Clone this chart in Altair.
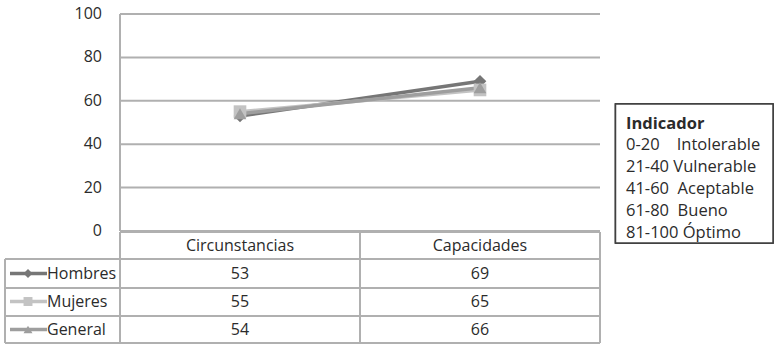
import altair as alt
import pandas as pd

# Data
categories = ["Circunstancias", "Capacidades"]
series = ["Hombres", "Mujeres", "General"]
hombres = [53, 69]
mujeres = [55, 65]
general = [54, 66]
y_ticks = [0, 20, 40, 60, 80, 100]
levels = ["0-20", "21-40", "41-60", "61-80", "81-100"]
level_names = ["Intolerable", "Vulnerable", "Aceptable", "Bueno", "Óptimo"]
level_gaps = [4, 1, 2, 2, 1]

colors = ["#767676", "#c3c3c3", "#9e9e9e"]
shapes = ["diamond", "square", "triangle-up"]
FONT = "Open Sans"
FS = 16
FS_BOX = 16.5
TXT = "#2b2b2b"
GRID = "#b0b0b0"

rows = []
for name, vals in zip(series, [hombres, mujeres, general]):
    for cat, v in zip(categories, vals):
        rows.append({"series": name, "category": cat, "value": v,
                     "order": categories.index(cat)})
df = pd.DataFrame(rows)

yscale = alt.Scale(domain=[0, 100], range=[231, 14])
xscale = alt.Scale(type="point", domain=categories, range=[240, 480], padding=0)
rowscale = alt.Scale(type="point", domain=series, range=[273.5, 329.5], padding=0)
color = alt.Color("series:N", scale=alt.Scale(domain=series, range=colors), legend=None)
shape = alt.Shape("series:N", scale=alt.Scale(domain=series, range=shapes), legend=None)

# Horizontal gridlines and y tick labels
ticks_df = pd.DataFrame({"tick": y_ticks})
grid = alt.Chart(ticks_df).mark_rule(color=GRID, strokeWidth=2).encode(
    y=alt.Y("tick:Q", scale=yscale, axis=None),
    x=alt.value(120), x2=alt.value(600),
)
tick_labels = alt.Chart(ticks_df).mark_text(
    align="right", baseline="middle", font=FONT, fontSize=FS, color=TXT
).encode(
    y=alt.Y("tick:Q", scale=yscale, axis=None),
    x=alt.value(102),
    text="tick:Q",
)
y_line = alt.Chart(ticks_df).mark_rule(color=GRID, strokeWidth=2).encode(
    x=alt.value(120), y=alt.value(14), y2=alt.value(231)
)

# Data table borders (pixel layout)
h_lines = pd.DataFrame({
    "y": [232, 259, 288, 316, 343],
    "x1": [120, 5, 5, 5, 5],
    "x2": [600, 600, 600, 600, 600],
})
v_lines = pd.DataFrame({
    "x": [5, 120, 360, 600],
    "y1": [259, 232, 232, 232],
    "y2": [343, 343, 343, 343],
})
h_rules = alt.Chart(h_lines).mark_rule(color=GRID, strokeWidth=2).encode(
    y=alt.Y("y:Q", scale=None), x=alt.X("x1:Q", scale=None), x2="x2:Q"
)
v_rules = alt.Chart(v_lines).mark_rule(color=GRID, strokeWidth=2).encode(
    x=alt.X("x:Q", scale=None), y=alt.Y("y1:Q", scale=None), y2="y2:Q"
)

# Series lines and markers
base = alt.Chart(df)
lines = base.mark_line(strokeWidth=3.5).encode(
    x=alt.X("category:N", scale=xscale, axis=None),
    y=alt.Y("value:Q", scale=yscale, axis=None),
    color=color,
    detail="series:N",
    order="order:Q",
)
points = base.mark_point(filled=True, opacity=1, size=160).encode(
    x=alt.X("category:N", scale=xscale, axis=None),
    y=alt.Y("value:Q", scale=yscale, axis=None),
    color=color,
    shape=shape,
)

# Table header and values
header = alt.Chart(pd.DataFrame({"category": categories})).mark_text(
    font=FONT, fontSize=FS, color=TXT, baseline="middle"
).encode(
    x=alt.X("category:N", scale=xscale, axis=None),
    y=alt.value(245.5),
    text="category:N",
)
values = base.mark_text(font=FONT, fontSize=FS, color=TXT, baseline="middle").encode(
    x=alt.X("category:N", scale=xscale, axis=None),
    y=alt.Y("series:N", scale=rowscale, axis=None),
    text="value:Q",
)

# Series keys inside the table
key_df = pd.DataFrame({"series": series})
key_lines = alt.Chart(key_df).mark_rule(strokeWidth=3.5).encode(
    y=alt.Y("series:N", scale=rowscale, axis=None),
    x=alt.value(10), x2=alt.value(47),
    color=color,
)
key_points = alt.Chart(key_df).mark_point(filled=True, opacity=1, size=80).encode(
    y=alt.Y("series:N", scale=rowscale, axis=None),
    x=alt.value(28),
    color=color,
    shape=shape,
)
key_text = alt.Chart(key_df).mark_text(
    align="left", baseline="middle", font=FONT, fontSize=FS, color=TXT
).encode(
    y=alt.Y("series:N", scale=rowscale, axis=None),
    x=alt.value(47),
    text="series:N",
)

# Indicator box
box = alt.Chart(key_df).mark_rect(fill="white", stroke="#404040", strokeWidth=1.5).encode(
    x=alt.value(615.5), x2=alt.value(773), y=alt.value(104), y2=alt.value(243)
)
box_title = alt.Chart(pd.DataFrame({"t": ["Indicador"]})).mark_text(
    align="left", baseline="middle", font=FONT, fontSize=FS_BOX, fontWeight="bold", color=TXT
).encode(x=alt.value(626), y=alt.value(124), text="t:N")
legend_rows = pd.DataFrame({
    "label": [r + "\u00a0" * g + n for r, g, n in zip(levels, level_gaps, level_names)]
})
box_text = alt.Chart(legend_rows).mark_text(
    align="left", baseline="middle", font=FONT, fontSize=FS_BOX, color=TXT
).encode(
    x=alt.value(626),
    y=alt.Y("label:N", sort=None,
            scale=alt.Scale(type="point", range=[145, 233], padding=0), axis=None),
    text="label:N",
)

chart = alt.layer(
    grid, y_line, tick_labels, h_rules, v_rules, lines, points,
    header, values, key_lines, key_points, key_text, box, box_title, box_text,
).resolve_scale(y="independent").properties(
    width=775, height=344, padding=0,
    autosize=alt.AutoSizeParams(type="none"),
    background="white",
).configure_view(stroke=None)

chart.save("out.html", embed_options={"renderer": "svg", "actions": False})
